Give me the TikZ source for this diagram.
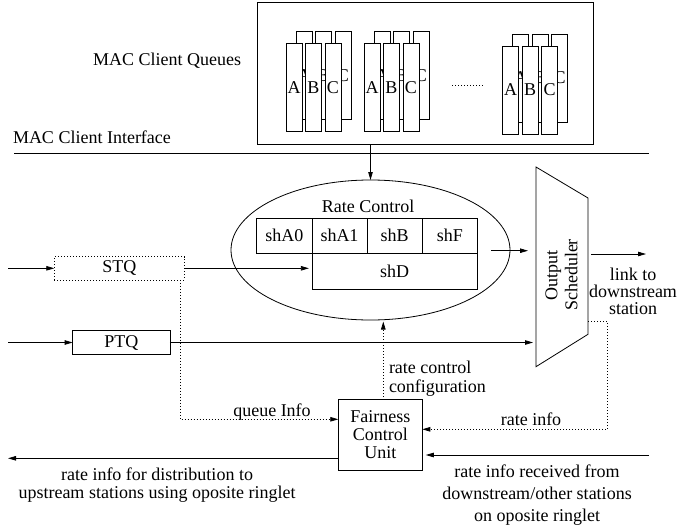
\documentclass[tikz,border=0pt]{standalone}
\usepackage{fontspec}
\setmainfont{Liberation Serif}
\usetikzlibrary{arrows.meta,shapes.geometric}

\begin{document}
\begin{tikzpicture}[x=1pt,y=-1pt,
  line width=0.8pt,
  every node/.style={font=\fontsize{18}{18}\selectfont, inner sep=0pt, outer sep=0pt},
  arr/.style={-{Triangle[length=8pt,width=4.5pt]}},
  dots/.style={dash pattern=on 0.8pt off 2.2pt},
  qcell/.style={draw, minimum width=16pt, minimum height=88pt},
  cell/.style={draw, minimum width=55.2pt, minimum height=35pt},
]
\useasboundingbox (0,0) rectangle (681,530);

% ---------- MAC client queues ----------
\node[draw, minimum width=336pt, minimum height=142pt] (qbox) at (425,73) {};
\node[anchor=base east] (qlabel) at (241,65) {MAC Client Queues};

\foreach \gx/\gy/\g in {286/43.3/1, 364/43.3/2, 502.7/46/3} {
  % rear row of queues
  \foreach \L [count=\i from 0] in {A,B,C}
    \node[qcell] (rear-\g-\L) at (\gx+\i*19.5+18, \gy+32) {\L};
  % front row of queues
  \foreach \L [count=\i from 0] in {A,B,C}
    \node[qcell, fill=white] (front-\g-\L) at (\gx+\i*19.5+8, \gy+44) {\L};
}
\coordinate (ell1) at (452,85);
\coordinate (ell2) at (483,85);
\draw[dots, line width=1pt] (ell1) -- (ell2);

% ---------- MAC client interface ----------
\node[anchor=base west] (ilabel) at (13,143) {MAC Client Interface};
\coordinate (if1) at (14,153.3);
\coordinate (if2) at (649,153.3);
\draw (if1) -- (if2);

% ---------- rate control ----------
\node[draw, ellipse, minimum width=279pt, minimum height=140pt] (rc) at (370.5,250) {};
\node[anchor=base] (rclabel) at (368,212.3) {Rate Control};
\node[cell] (sha0) at (284.3,235.8) {shA0};
\node[cell] (sha1) at (339.5,235.8) {shA1};
\node[cell] (shb)  at (394.7,235.8) {shB};
\node[cell] (shf)  at (449.9,235.8) {shF};
\node[draw, minimum width=165.6pt, minimum height=36pt] (shd) at (394.7,271.3) {shD};

\draw[arr] (rc.north |- qbox.south) -- (rc.north);

% ---------- output scheduler ----------
\draw (536,167) coordinate (s1) -- (588,198) coordinate (s2)
   -- (588,334.3) coordinate (s3) -- (536,366.7) coordinate (s4) -- cycle;
\node[rotate=90, align=center, font=\fontsize{18}{20}\selectfont] (schedlabel)
   at (561.5,275) {Output\\Scheduler};

\coordinate (rcout) at (491,250.7);
\draw[arr, shorten >=8pt] (rcout) -- (rcout -| s1);

\coordinate (outlink) at (646,254);
\draw[arr, shorten <=3pt] (s2 |- outlink) -- (outlink);
\node[align=center, font=\fontsize{18}{17}\selectfont] (linklabel) at (633,291)
   {link to\\downstream\\station};

% ---------- transit queues ----------
\node[draw, dots, minimum width=130pt, minimum height=23.3pt] (stq) at (119.3,268.3) {STQ};
\node[draw, minimum width=97.3pt, minimum height=23.3pt] (ptq) at (121.3,342.5) {PTQ};

\coordinate (inS) at (8,268.3);
\coordinate (inP) at (8,342.5);
\draw[arr] (inS) -- (stq.west);
\draw[arr] (inP) -- (ptq.west);

\draw[arr, shorten >=3pt] (stq.east) -- (stq.east -| shd.west);
\draw[arr, shorten >=3pt] (ptq.east) -- (ptq.east -| s1);

% ---------- fairness control unit ----------
\node[draw, minimum width=84pt, minimum height=71.4pt, align=center] (fcu)
   at (380.3,435) {Fairness\\Control\\Unit};

\draw[dots, arr] ([xshift=-4.3pt]stq.south east) |- ([yshift=15.7pt]fcu.west);
\node[anchor=base] (qinfo) at (272,416) {queue Info};

\coordinate (cfgfoot) at (383.3,399.3);
\draw[dots, arr, shorten >=1.5pt] (cfgfoot) -- (cfgfoot |- rc.south);
\node[anchor=west, align=left, font=\fontsize{18}{19}\selectfont] (cfglabel)
   at (389,378.3) {rate control\\configuration};

\coordinate (ri) at (607.5,321.7);
\draw[dots, arr] (s2 |- ri) -- (ri) |- ([yshift=5.7pt]fcu.east);
\node[anchor=base] (rilabel) at (531,425) {rate info};

\coordinate (inR) at (649,455);
\draw[arr, shorten >=3.5pt] (inR) -- (inR -| fcu.east);
\node[align=center, font=\fontsize{18}{22.2}\selectfont] (inRlabel) at (537,495.3)
   {rate info received from\\downstream/other stations\\on oposite ringlet};

\coordinate (outL) at (8,458.3);
\draw[arr] (outL -| fcu.west) -- (outL);
\node[align=center, font=\fontsize{18}{18}\selectfont] (outLlabel) at (157,485)
   {rate info for distribution to\\upstream stations using oposite ringlet};

\end{tikzpicture}
\end{document}
